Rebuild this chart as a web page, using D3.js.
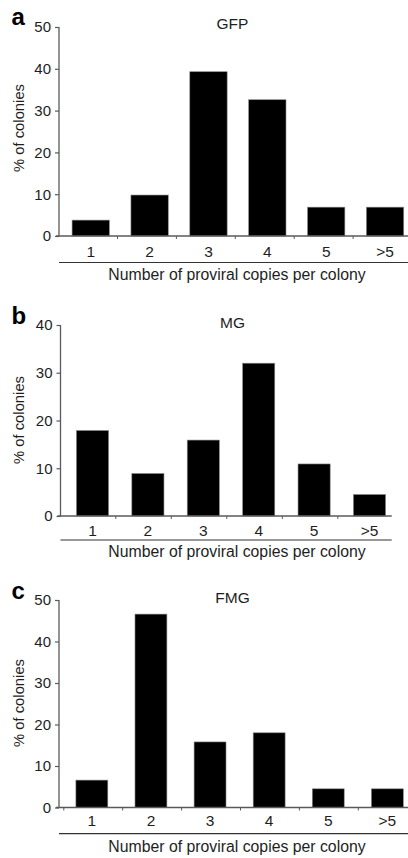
<!DOCTYPE html>
<html>
<head>
<meta charset="utf-8">
<script src="https://cdn.jsdelivr.net/npm/d3@7"></script>
<style>
  html, body { margin: 0; padding: 0; background: #fff; }
  svg { display: block; font-family: "Liberation Sans", Arial, Helvetica, sans-serif; }
</style>
</head>
<body>
<svg id="chart" width="408" height="858"></svg>
<script>
// ---- data ----
const categories = ["1", "2", "3", "4", "5", ">5"];
const gfpValues = [3.8, 9.8, 39.3, 32.6, 6.9, 6.9];
const mgValues = [17.9, 8.9, 15.9, 32.0, 10.9, 4.5];
const fmgValues = [6.6, 46.6, 15.8, 18.0, 4.5, 4.5];
const panelLetters = ["a", "b", "c"];
const panelTitles = ["GFP", "MG", "FMG"];
const gfpTicks = [0, 10, 20, 30, 40, 50];
const mgTicks = [0, 10, 20, 30, 40];
const fmgTicks = [0, 10, 20, 30, 40, 50];
const yTitle = "% of colonies";
const xTitle = "Number of proviral copies per colony";

// ---- layout (per panel) ----
const panels = [
  { values: gfpValues, ticks: gfpTicks, yMax: 50, yTop: 27, yBot: 236, axisX: 59,
    band: [61.3, 414.5], pad: 0.366, tickBand: [58.6, 412], axisEnd: 408,
    sepY: 262.5, tickBase: 256.5, titleBase: 280, headBase: 29, letterBase: 24.5, yTitleY: 128 },
  { values: mgValues, ticks: mgTicks, yMax: 40, yTop: 325, yBot: 516, axisX: 60.5,
    band: [64.8, 397.2], pad: 0.42, tickBand: [60.3, 393.3], axisEnd: 391.7,
    sepY: 540, tickBase: 535.5, titleBase: 557, headBase: 327.5, letterBase: 324, yTitleY: 420 },
  { values: fmgValues, ticks: fmgTicks, yMax: 50, yTop: 600, yBot: 807.5, axisX: 59,
    band: [62.3, 416.9], pad: 0.46, tickBand: [63.8, 417.2], axisEnd: 408,
    sepY: 833.7, tickBase: 826, titleBase: 852, headBase: 603, letterBase: 598.5, yTitleY: 703 }
];

const svg = d3.select("#chart");
const axisColor = "#5a5a5a";
const textColor = "#1e1e1e";

panels.forEach((p, i) => {
  const g = svg.append("g");
  const x = d3.scaleBand().domain(categories).range(p.band)
    .paddingInner(p.pad).paddingOuter(p.pad / 2);
  const xt = d3.scaleBand().domain(categories).range(p.tickBand);
  const y = d3.scaleLinear().domain([0, p.yMax]).range([p.yBot, p.yTop]);

  // bars
  g.selectAll("rect.bar").data(p.values).enter().append("rect")
    .attr("class", "bar")
    .attr("x", (d, j) => x(categories[j]))
    .attr("width", x.bandwidth())
    .attr("y", d => y(d))
    .attr("height", d => y(0) - y(d))
    .attr("fill", "#000")
    .attr("stroke", "#888")
    .attr("stroke-width", 0.6);

  // y axis
  const yAxis = d3.axisLeft(y).tickValues(p.ticks).tickSize(4).tickPadding(4)
    .tickFormat(d3.format("d"));
  const ya = g.append("g").attr("transform", `translate(${p.axisX},0)`).call(yAxis);
  ya.select(".domain").attr("d", `M0,${p.yTop}V${p.yBot}`).attr("stroke", axisColor).attr("stroke-width", 1.3);
  ya.selectAll(".tick line").attr("stroke", axisColor).attr("stroke-width", 1.2);
  ya.selectAll(".tick text").attr("fill", textColor).style("font-size", "15px")
    .style("font-family", "'Liberation Sans', Arial, sans-serif");

  // x axis line
  g.append("line").attr("x1", p.axisX - 3).attr("x2", p.axisEnd)
    .attr("y1", p.yBot).attr("y2", p.yBot)
    .attr("stroke", axisColor).attr("stroke-width", 1.3);
  // x tick marks at category boundaries
  const boundaries = categories.map(c => xt(c)).filter(v => v > p.axisX + 1 && v < p.axisEnd);
  g.selectAll("line.xtick").data(boundaries).enter().append("line")
    .attr("class", "xtick")
    .attr("x1", d => d).attr("x2", d => d)
    .attr("y1", p.yBot).attr("y2", p.yBot + 3)
    .attr("stroke", axisColor).attr("stroke-width", 1);
  // x tick labels
  g.selectAll("text.xlab").data(categories).enter().append("text")
    .attr("class", "xlab")
    .attr("x", d => x(d) + x.bandwidth() / 2)
    .attr("y", p.tickBase)
    .attr("text-anchor", "middle")
    .attr("fill", textColor)
    .style("font-size", "15.5px")
    .text(d => d);

  // separator line
  g.append("line").attr("x1", p.axisX).attr("x2", p.axisEnd)
    .attr("y1", p.sepY).attr("y2", p.sepY)
    .attr("stroke", "#333").attr("stroke-width", 1.2);

  // x title
  g.append("text")
    .attr("x", 237).attr("y", p.titleBase)
    .attr("text-anchor", "middle").attr("fill", textColor)
    .style("font-size", "15.8px")
    .text(xTitle);

  // y title
  g.append("text")
    .attr("transform", `translate(24,${p.yTitleY}) rotate(-90)`)
    .attr("text-anchor", "middle").attr("fill", textColor)
    .style("font-size", "14.8px")
    .text(yTitle);

  // panel heading
  g.append("text")
    .attr("x", 232.5).attr("y", p.headBase)
    .attr("text-anchor", "middle").attr("fill", textColor)
    .style("font-size", "15.5px")
    .text(panelTitles[i]);

  // panel letter
  g.append("text")
    .attr("x", 11.5).attr("y", p.letterBase)
    .attr("fill", "#000")
    .style("font-size", "24px").style("font-weight", "bold")
    .text(panelLetters[i]);
});
</script>
</body>
</html>
